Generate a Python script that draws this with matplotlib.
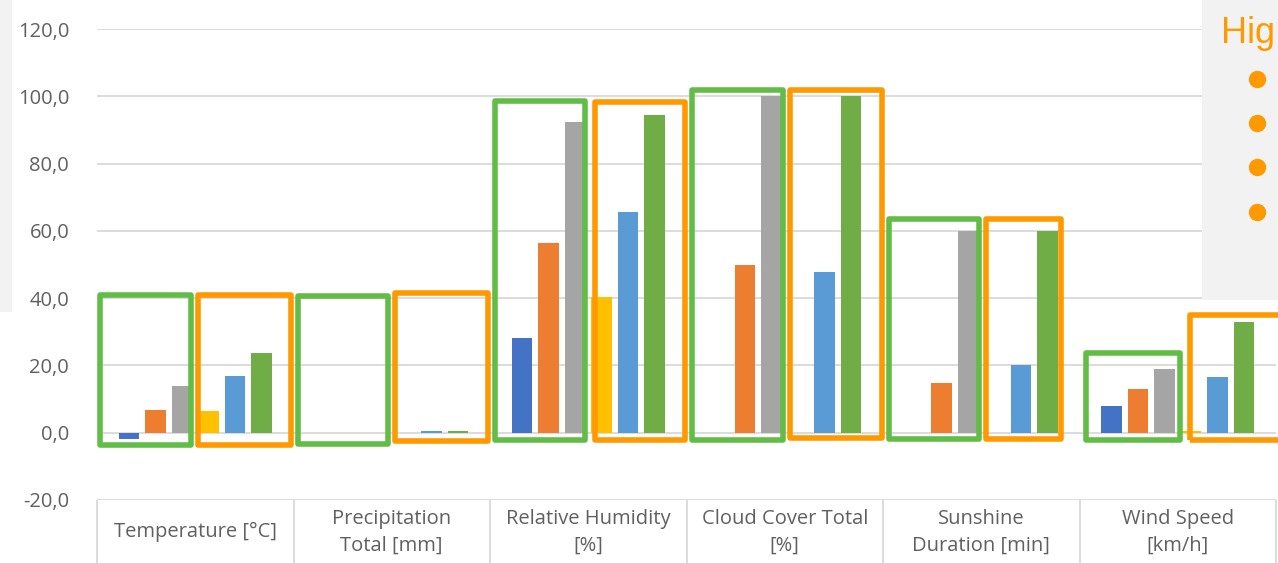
import matplotlib
matplotlib.use("Agg")
import matplotlib.pyplot as plt
from matplotlib.patches import Rectangle
from matplotlib.lines import Line2D
from matplotlib.ticker import FuncFormatter

categories = ["Temperature [°C]", "Precipitation\nTotal [mm]", "Relative Humidity\n[%]",
              "Cloud Cover Total\n[%]", "Sunshine\nDuration [min]", "Wind Speed\n[km/h]"]
s1 = [-2.0, 0.0, 28.2, 0.0, 0.0, 8.0]
s2 = [6.8, 0.0, 56.4, 49.9, 14.7, 13.0]
s3 = [14.0, 0.0, 92.4, 100.0, 60.0, 18.9]
s4 = [6.6, 0.0, 40.2, 0.0, 0.0, 0.4]
s5 = [17.0, 0.4, 65.6, 47.9, 20.2, 16.5]
s6 = [23.7, 0.4, 94.3, 100.0, 60.0, 32.8]
series = [s1, s2, s3, s4, s5, s6]
colors = ["#4472C4", "#ED7D31", "#A5A5A5", "#FFC000", "#5B9BD5", "#70AD47"]

# highlight boxes (x0, x1, y0, y1, colour) in data units
GREEN, ORANGE = "#62BD46", "#FF9900"
boxes = [(-0.487, -0.024, -3.8, 40.8, GREEN), (0.016, 0.485, -3.8, 40.8, ORANGE),
         (0.525, 0.983, -3.5, 40.5, GREEN), (1.019, 1.492, -2.6, 41.4, ORANGE),
         (1.523, 1.986, -2.3, 98.7, GREEN), (2.032, 2.490, -2.3, 98.4, ORANGE),
         (2.530, 2.989, -2.3, 102.0, GREEN), (3.029, 3.497, -1.7, 102.0, ORANGE),
         (3.533, 3.991, -2.0, 63.4, GREEN), (4.022, 4.408, -2.0, 63.4, ORANGE),
         (4.531, 5.009, -2.3, 23.8, GREEN), (5.060, 5.600, -2.3, 35.1, ORANGE)]

W, H = 1278, 563
fig = plt.figure(figsize=(W / 100, H / 100), dpi=100)
ax = fig.add_axes([97 / W, (H - 500) / H, 1179 / W, 471 / H])
ax.set_xlim(-0.5, 5.5)
ax.set_ylim(-20, 120)

step, bw = 0.135, 0.104
for k, (vals, c) in enumerate(zip(series, colors)):
    xs = [i + (k - 2.5) * step for i in range(len(categories))]
    ax.bar(xs, vals, width=bw, color=c, zorder=2)

for (x0, x1, y0, y1, c) in boxes:
    ax.add_patch(Rectangle((x0, y0), x1 - x0, y1 - y0, fill=False, ec=c, lw=4.0,
                           joinstyle="round", zorder=4, clip_on=False))

ax.set_yticks(range(-20, 121, 20))
ax.yaxis.set_major_formatter(FuncFormatter(lambda v, p: f"{v:.1f}".replace(".", ",")))
ax.yaxis.grid(True, color="#d9d9d9", lw=1.3, zorder=0)
ax.tick_params(axis="y", length=0, pad=20, labelcolor="#606060", labelsize=14.5)
for lab in ax.get_yticklabels():
    lab.set_family("Open Sans")
ax.set_xticks([])
for s in ax.spines.values():
    s.set_visible(False)

# category table under the plot
tr = ax.get_xaxis_transform()
ax.vlines([i - 0.5 for i in range(len(categories) + 1)], -0.14, 0, transform=tr,
          color="#d9d9d9", lw=1.3, clip_on=False)
for i, name in enumerate(categories):
    ax.text(i, -0.068, name, transform=tr, ha="center", va="center", fontsize=14.5,
            color="#606060", family="Open Sans", linespacing=1.45)

# slide overlay panels
fig.add_artist(Rectangle((0, (H - 312) / H), 12 / W, 312 / H, transform=fig.transFigure,
                         fc="#f2f2f2", ec="none", zorder=10))
fig.add_artist(Rectangle((1202 / W, (H - 300) / H), 76 / W, 300 / H, transform=fig.transFigure,
                         fc="#f2f2f2", ec="none", zorder=10))
fig.text(1221 / W, (H - 43) / H, "Hig", fontsize=26, color=ORANGE, family="Liberation Sans",
         va="baseline", zorder=11)
for yb in [79, 123, 167, 212]:
    fig.add_artist(Line2D([1257 / W], [(H - yb) / H], transform=fig.transFigure, marker="o",
                          ms=11.5, color=ORANGE, ls="none", zorder=11))

fig.savefig("out.png", dpi=100)
